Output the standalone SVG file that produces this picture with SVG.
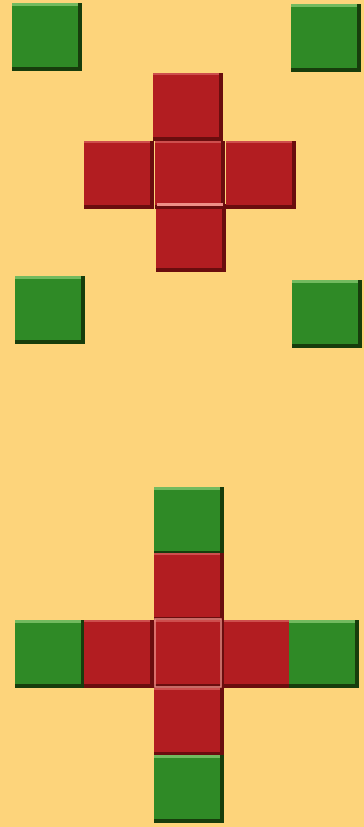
<svg xmlns="http://www.w3.org/2000/svg" width="364" height="827" viewBox="0 0 364 827">
<style>
.g{fill:#2f8a26}
.r{fill:#b21d21}
.gd{fill:#173d0c}
.rd{fill:#6a0d0e}
.gl{fill:#8fcf78}
.rl{fill:#e0706a}
</style>
<defs>
<g id="gt"><rect x="0" y="0" width="70" height="68" class="gd"/><rect x="0" y="0" width="66" height="64" class="g"/><rect x="0" y="0" width="66" height="3" class="gl" opacity="0.7"/></g>
<g id="rt"><rect x="0" y="0" width="70" height="68" class="rd"/><rect x="0" y="0" width="66" height="64" class="r"/><rect x="0" y="0" width="66" height="2" class="rl" opacity="0.6"/></g>
</defs>
<rect width="364" height="827" fill="#fdd47b"/>
<g id="green-tl"><use href="#gt" x="12" y="3"/></g>
<g id="green-tr"><use href="#gt" x="291" y="4"/></g>
<g id="top-cross">
<use href="#rt" x="153" y="73"/>
<use href="#rt" x="84" y="141"/>
<use href="#rt" x="226" y="141"/>
<use href="#rt" x="156" y="204"/>
<use href="#rt" x="155" y="141"/>
<rect x="157" y="203" width="66" height="3" fill="#f09088"/>
</g>
<g id="green-ml"><use href="#gt" x="15" y="276"/></g>
<g id="green-mr"><use href="#gt" x="292" y="280"/></g>
<g id="bottom-cross">
<use href="#gt" x="154" y="487"/>
<use href="#rt" x="154" y="553"/>
<use href="#gt" x="15" y="620"/>
<use href="#rt" x="84" y="620"/>
<use href="#rt" x="223" y="620"/>
<use href="#gt" x="289" y="620"/>
<use href="#rt" x="154" y="688"/>
<use href="#gt" x="154" y="755"/>
<use href="#rt" x="154" y="620"/>
<rect x="155" y="619" width="66" height="68" fill="none" stroke="#e88a84" stroke-width="1.5"/>
</g>
</svg>
